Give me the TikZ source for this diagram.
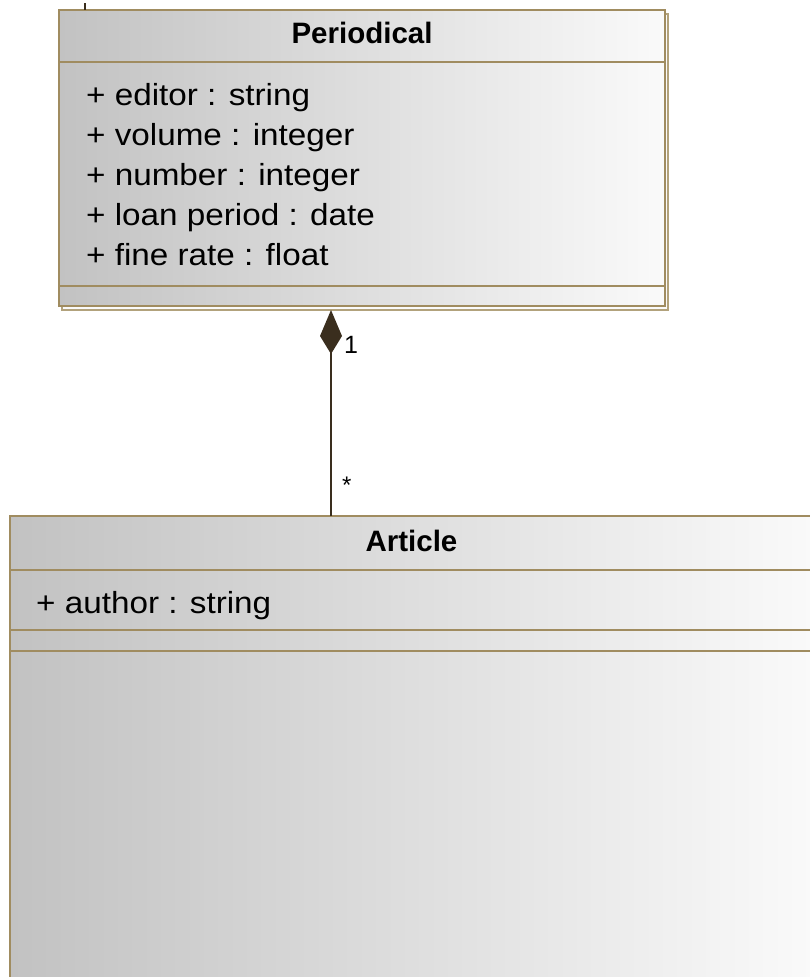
\documentclass[tikz,border=0pt]{standalone}
\usepackage{fontspec}
\setmainfont{Liberation Sans}
\newfontfamily\attrfont[FakeStretch=1.09]{Liberation Sans}
\usetikzlibrary{arrows.meta}
\definecolor{umlborder}{RGB}{160,140,96}
\definecolor{umlshadow}{RGB}{178,162,124}
\definecolor{shadeleft}{RGB}{194,194,194}
\definecolor{shaderight}{RGB}{250,250,250}
\definecolor{linkcol}{RGB}{58,46,30}
\begin{document}
\begin{tikzpicture}[x=1pt,y=-1pt,
  umlbox/.style={draw=umlborder, line width=2.4pt, left color=shadeleft,
    right color=shaderight, anchor=north west, inner sep=0pt, outer sep=0pt},
  boxshadow/.style={draw=umlshadow, fill=shaderight, line width=2.2pt,
    anchor=north west, inner sep=0pt, outer sep=0pt},
  compline/.style={draw=umlborder, line width=2.4pt},
  classname/.style={font=\bfseries\fontsize{29.5}{32}\selectfont,
    anchor=base, inner sep=0pt},
  attr/.style={font=\attrfont\fontsize{30.5}{32}\selectfont,
    anchor=base west, inner sep=0pt},
  mult/.style={anchor=base west, inner sep=0pt},
  comp/.style={draw=linkcol, line width=2pt,
    -{Kite[length=44pt,width=22pt,inset=18pt,fill=linkcol]}},
  assoc/.style={draw=linkcol, line width=2pt}]
\useasboundingbox (0,0) rectangle (810,977);
\clip (0,0) rectangle (810,977);
\fill[white] (0,0) rectangle (810,977);

% class Periodical, with its drop shadow
\node[boxshadow, minimum width=606pt, minimum height=296pt] (pshadow) at (62,14) {};
\node[umlbox, minimum width=606pt, minimum height=296pt] (periodical) at (59,10) {};
\draw[compline] ([yshift=-52pt]periodical.north west) -- ([yshift=-52pt]periodical.north east);
\draw[compline] ([yshift=-276pt]periodical.north west) -- ([yshift=-276pt]periodical.north east);
\node[classname] (pname) at ([yshift=-33pt]periodical.north) {Periodical};
\node[attr] (pa1) at (86,105) {+ editor : string};
\node[attr] (pa2) at (86,145) {+ volume : integer};
\node[attr] (pa3) at (86,185) {+ number : integer};
\node[attr] (pa4) at (86,225) {+ loan period : date};
\node[attr] (pa5) at (86,265) {+ fine rate : float};

% class Article (runs past the right and bottom edges)
\node[umlbox, minimum width=803pt, minimum height=520pt] (article) at (10,516) {};
\draw[compline] ([yshift=-54pt]article.north west) -- ([yshift=-54pt]article.north east);
\draw[compline] ([yshift=-114pt]article.north west) -- ([yshift=-114pt]article.north east);
\draw[compline] ([yshift=-135pt]article.north west) -- ([yshift=-135pt]article.north east);
\node[classname] (aname) at ([yshift=-35pt]article.north) {Article};
\node[attr] (aa1) at (36,613) {+ author : string};

% composition Article * --- 1 Periodical
\coordinate (cx) at (331,0);
\draw[comp] (article.north -| cx) -- (pshadow.south -| cx);
\node[mult, font=\fontsize{25}{26}\selectfont] (m1) at (344,353) {1};
\node[mult, font=\fontsize{24}{26}\selectfont] (m2) at (342,493) {*};

% association entering Periodical from above
\coordinate (up) at (85,3);
\draw[assoc] (up) -- (up |- periodical.north);
\end{tikzpicture}
\end{document}
